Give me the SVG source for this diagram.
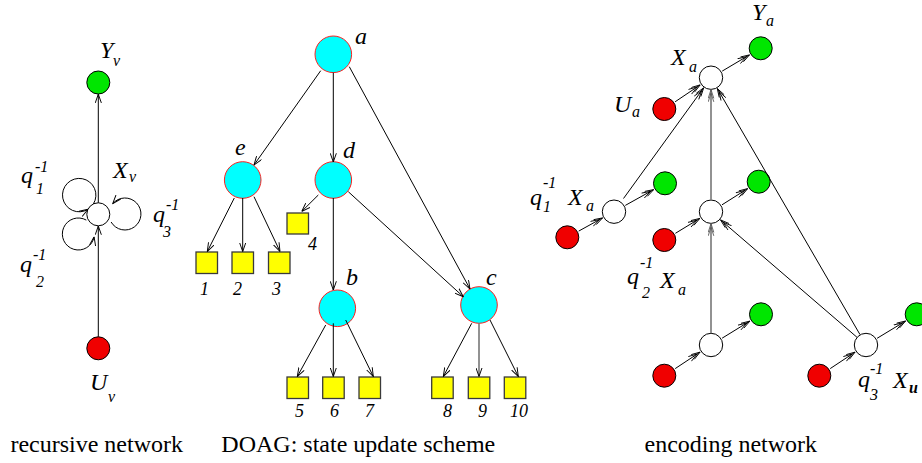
<svg xmlns="http://www.w3.org/2000/svg" width="922" height="463" viewBox="0 0 922 463">
<defs>
<style>
.t{font-family:"Liberation Serif","Times New Roman",serif;fill:#000}
.i{font-family:"Liberation Serif","Times New Roman",serif;font-style:italic;fill:#000}
.m{font-size:24px}
.s{font-size:16px}
.n{font-size:18px}
.cap{font-size:24px;text-anchor:middle}
.cy{fill:#00ffff;stroke:#ff2020;stroke-width:1}
.sq{fill:#ffff00;stroke:#3a3a3a;stroke-width:1.3}
.w{fill:#fff;stroke:#000;stroke-width:1}
.g{fill:#00e600;stroke:#000;stroke-width:1}
.r{fill:#f00000;stroke:#000;stroke-width:1}
.e{fill:none;stroke:#000;stroke-width:1}
.gr{fill:none;stroke:#777;stroke-width:1.6}
</style>
<marker id="ar" viewBox="0 0 10 8" refX="10" refY="4" markerWidth="9" markerHeight="7" orient="auto" markerUnits="userSpaceOnUse">
<path d="M0,0.5 L10,4 L0,7.5" fill="none" stroke="#000" stroke-width="1.1"/>
</marker>
<marker id="ard" viewBox="-4 0 14 8" refX="10" refY="4" markerWidth="13" markerHeight="7" orient="auto" markerUnits="userSpaceOnUse">
<path d="M0,0.8 L10,4 L0,7.2 M-4,0.8 L6,4 L-4,7.2" fill="none" stroke="#000" stroke-width="1"/>
</marker>
<marker id="argr" viewBox="-4 0 14 8" refX="10" refY="4" markerWidth="13" markerHeight="7" orient="auto" markerUnits="userSpaceOnUse">
<path d="M0,0.8 L10,4 L0,7.2 M-4,0.8 L6,4 L-4,7.2" fill="none" stroke="#555" stroke-width="1"/>
</marker>
</defs>
<rect width="922" height="463" fill="#fff"/>

<!-- recursive network -->
<g id="rec-Y"><circle class="g" cx="98.3" cy="82.5" r="11.5"/><text class="i m" x="100" y="58">Y</text><text class="i s" x="113" y="66">v</text></g>
<g id="rec-X"><circle class="w" cx="98.3" cy="214.3" r="11.5"/><text class="i m" x="113" y="178">X</text><text class="i s" x="129" y="182">v</text></g>
<g id="rec-U"><circle class="r" cx="98.3" cy="348.3" r="11.5"/><text class="i m" x="90" y="390">U</text><text class="i s" x="108" y="402">v</text></g>
<g id="rec-q1"><text class="i m" x="21" y="183">q</text><text class="i s" x="35" y="172">-1</text><text class="i s" x="36" y="194">1</text></g>
<g id="rec-q2"><text class="i m" x="20" y="272">q</text><text class="i s" x="33" y="260">-1</text><text class="i s" x="36" y="287">2</text></g>
<g id="rec-q3"><text class="i m" x="153" y="222">q</text><text class="i s" x="166" y="210">-1</text><text class="i s" x="163" y="237">3</text></g>

<!-- DOAG -->
<g id="n-a"><circle class="cy" cx="333.3" cy="54.3" r="18.3"/><text class="i m" x="355" y="44">a</text></g>
<g id="n-e"><circle class="cy" cx="242.7" cy="180" r="18.3"/><text class="i m" x="235" y="155">e</text></g>
<g id="n-d"><circle class="cy" cx="333.3" cy="180" r="18.3"/><text class="i m" x="343" y="158">d</text></g>
<g id="n-b"><circle class="cy" cx="337.3" cy="308.3" r="18.3"/><text class="i m" x="346" y="285">b</text></g>
<g id="n-c"><circle class="cy" cx="479" cy="305" r="18.3"/><text class="i m" x="486" y="285">c</text></g>
<g id="l-1"><rect class="sq" x="196" y="252" width="21.5" height="21.5"/><text class="i n" x="200" y="295">1</text></g>
<g id="l-2"><rect class="sq" x="232" y="252" width="21.5" height="21.5"/><text class="i n" x="233" y="295">2</text></g>
<g id="l-3"><rect class="sq" x="268.5" y="252" width="21.5" height="21.5"/><text class="i n" x="272" y="295">3</text></g>
<g id="l-4"><rect class="sq" x="287" y="213" width="21.5" height="21"/><text class="i n" x="308" y="250">4</text></g>
<g id="l-5"><rect class="sq" x="287" y="377" width="21.5" height="21.5"/><text class="i n" x="295" y="417">5</text></g>
<g id="l-6"><rect class="sq" x="322.7" y="377" width="21.5" height="21.5"/><text class="i n" x="330" y="417">6</text></g>
<g id="l-7"><rect class="sq" x="359" y="377" width="21.5" height="21.5"/><text class="i n" x="365" y="417">7</text></g>
<g id="l-8"><rect class="sq" x="431.7" y="377" width="21.5" height="21.5"/><text class="i n" x="443" y="417">8</text></g>
<g id="l-9"><rect class="sq" x="468.3" y="377" width="21.5" height="21.5"/><text class="i n" x="478" y="417">9</text></g>
<g id="l-10"><rect class="sq" x="504.3" y="377" width="21.5" height="21.5"/><text class="i n" x="510" y="417">10</text></g>

<!-- encoding network -->
<g id="enc-XT"><circle class="w" cx="711" cy="77.7" r="11.7"/><text class="i m" x="671" y="65">X</text><text class="i s" x="689" y="72">a</text></g>
<g id="enc-YT"><circle class="g" cx="760.7" cy="48.3" r="11.5"/><text class="i m" x="752" y="20">Y</text><text class="i s" x="766" y="26">a</text></g>
<g id="enc-UT"><circle class="r" cx="664.3" cy="109" r="11.5"/><text class="i m" x="614" y="112">U</text><text class="i s" x="632" y="117">a</text></g>
<g id="enc-XL"><circle class="w" cx="614" cy="211.7" r="11.7"/><text class="i m" x="530" y="205">q</text><text class="i s" x="543" y="188">-1</text><text class="i s" x="543" y="212">1</text><text class="i m" x="568" y="205">X</text><text class="i s" x="586" y="211">a</text></g>
<g id="enc-GL"><circle class="g" cx="665" cy="183.3" r="11.5"/></g>
<g id="enc-RL"><circle class="r" cx="567.3" cy="237.3" r="11.5"/></g>
<g id="enc-XM"><circle class="w" cx="711" cy="211.7" r="11.7"/><text class="i m" x="627" y="284">q</text><text class="i s" x="640" y="268">-1</text><text class="i s" x="642" y="298">2</text><text class="i m" x="660" y="288">X</text><text class="i s" x="678" y="295">a</text></g>
<g id="enc-GM"><circle class="g" cx="758.7" cy="181.7" r="11.5"/></g>
<g id="enc-RM"><circle class="r" cx="664.3" cy="240" r="11.5"/></g>
<g id="enc-XB"><circle class="w" cx="711" cy="345" r="11.7"/></g>
<g id="enc-GB"><circle class="g" cx="761" cy="314.3" r="11.5"/></g>
<g id="enc-RB"><circle class="r" cx="664.3" cy="375.7" r="11.5"/></g>
<g id="enc-XR"><circle class="w" cx="866" cy="345" r="11.7"/><text class="i m" x="858" y="387">q</text><text class="i s" x="870" y="374">-1</text><text class="i s" x="870" y="400">3</text><text class="i m" x="893" y="388">X</text><text class="i s" x="909" y="393" font-weight="bold">u</text></g>
<g id="enc-GR"><circle class="g" cx="916.7" cy="314.3" r="11.5"/></g>
<g id="enc-RR"><circle class="r" cx="819.3" cy="375.7" r="11.5"/></g>

<!-- connectors -->
<g id="connectors">
<line class="e" x1="98.3" y1="336.8" x2="98.3" y2="226" marker-end="url(#ar)"/>
<line class="e" x1="98.3" y1="202.8" x2="98.3" y2="94.2" marker-end="url(#ar)"/>
<path class="e" d="M93.4,203.9 A16.7,16.7 0 1 0 88,209.3" marker-end="url(#ar)"/>
<path class="e" d="M86.3,220.1 A16,16 0 1 0 94.1,236.8" marker-end="url(#ar)"/>
<path class="e" d="M111.1,222 A16,16 0 1 0 112.7,203.7" marker-end="url(#ar)"/>

<line class="e" x1="320.7" y1="70.7" x2="254" y2="165" marker-end="url(#ar)"/>
<line class="e" x1="333.3" y1="72.6" x2="333.3" y2="162" marker-end="url(#ar)"/>
<line class="e" x1="349.3" y1="66.7" x2="470" y2="289" marker-end="url(#ar)"/>
<line class="e" x1="318.3" y1="195" x2="301.7" y2="211.5" marker-end="url(#ar)"/>
<line class="e" x1="333.3" y1="198" x2="333.3" y2="290" marker-end="url(#ar)"/>
<line class="e" x1="348.3" y1="191.7" x2="463.3" y2="296.7" marker-end="url(#ar)"/>
<line class="e" x1="234.3" y1="198" x2="207.3" y2="251.5" marker-end="url(#ar)"/>
<line class="e" x1="242.7" y1="198" x2="242.7" y2="251.5" marker-end="url(#ar)"/>
<line class="e" x1="254" y1="196.7" x2="280" y2="251.5" marker-end="url(#ar)"/>
<line class="e" x1="325.7" y1="325" x2="297.3" y2="376.5" marker-end="url(#ar)"/>
<line class="e" x1="333.3" y1="323.3" x2="333.3" y2="376.5" marker-end="url(#ar)"/>
<line class="e" x1="345.7" y1="320" x2="373.3" y2="376.5" marker-end="url(#ar)"/>
<line class="e" x1="471.7" y1="323.3" x2="443.3" y2="376.5" marker-end="url(#ar)"/>
<line class="gr" x1="479" y1="323.3" x2="479" y2="376.5" marker-end="url(#ar)"/>
<line class="e" x1="490" y1="320" x2="518.3" y2="376.5" marker-end="url(#ar)"/>

<line class="e" x1="675.1" y1="101.8" x2="700.2" y2="84.9" marker-end="url(#ard)"/>
<line class="e" x1="623.5" y1="198.5" x2="703.7" y2="87.8" marker-end="url(#ard)"/>
<line class="gr" x1="711" y1="199.7" x2="711" y2="89.6" marker-end="url(#argr)"/>
<line class="e" x1="860" y1="334.6" x2="717.3" y2="88.5" marker-end="url(#ard)"/>
<line class="e" x1="578.7" y1="231.1" x2="602.6" y2="217.9" marker-end="url(#ard)"/>
<line class="e" x1="625.3" y1="205.4" x2="653.7" y2="189.6" marker-end="url(#ard)"/>
<line class="e" x1="675.4" y1="233.3" x2="699.9" y2="218.4" marker-end="url(#ard)"/>
<line class="e" x1="722" y1="204.8" x2="747.7" y2="188.6" marker-end="url(#ard)"/>
<line class="gr" x1="711" y1="333.3" x2="711" y2="223.6" marker-end="url(#argr)"/>
<line class="e" x1="856.9" y1="337.2" x2="720.5" y2="219.9" marker-end="url(#ard)"/>
<line class="e" x1="675.2" y1="368.6" x2="700.1" y2="352.1" marker-end="url(#ard)"/>
<line class="e" x1="722.1" y1="338.2" x2="749.9" y2="321.1" marker-end="url(#ard)"/>
<line class="e" x1="830.2" y1="368.6" x2="855.1" y2="352.1" marker-end="url(#ard)"/>
<line class="e" x1="877.1" y1="338.3" x2="905.6" y2="321" marker-end="url(#ard)"/>
<line class="e" x1="722.2" y1="71.1" x2="749.5" y2="54.9" marker-end="url(#ard)"/>
</g>

<text class="t cap" x="96.7" y="452">recursive network</text>
<text class="t cap" x="358.3" y="452">DOAG: state update scheme</text>
<text class="t cap" x="730.8" y="452">encoding network</text>
</svg>
